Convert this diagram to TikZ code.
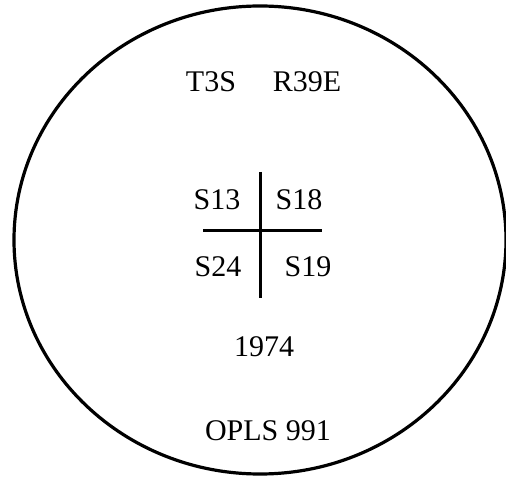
\documentclass[tikz,border=0pt]{standalone}
\usepackage{fontspec}
\setmainfont{Liberation Serif}
\begin{document}
\begin{tikzpicture}[x=1pt,y=-1pt,
  lbl/.style={anchor=base,inner sep=0pt,font=\fontsize{30}{30}\selectfont},
  bar/.style={line width=3pt}]
\useasboundingbox (0,0) rectangle (506,478);
\draw[line width=3.2pt] (260,240) ellipse [x radius=246, y radius=234];
\node[lbl] (t3s) at (211,92) {T3S};
\node[lbl] (r39e) at (307,92) {R39E};
\node[lbl] (s13) at (217,210) {S13};
\node[lbl] (s18) at (299,210) {S18};
\node[lbl] (s24) at (218,277) {S24};
\node[lbl] (s19) at (308,277) {S19};
\node[lbl] (y1974) at (264,356) {1974};
\node[lbl] (opls) at (268,440) {OPLS 991};
\coordinate (vt) at (260,172);
\coordinate (vb) at (260,298);
\coordinate (hl) at (203,231);
\coordinate (hr) at (322,231);
\draw[bar] (vt) -- (vb);
\draw[bar] (hl) -- (hr);
\end{tikzpicture}
\end{document}
